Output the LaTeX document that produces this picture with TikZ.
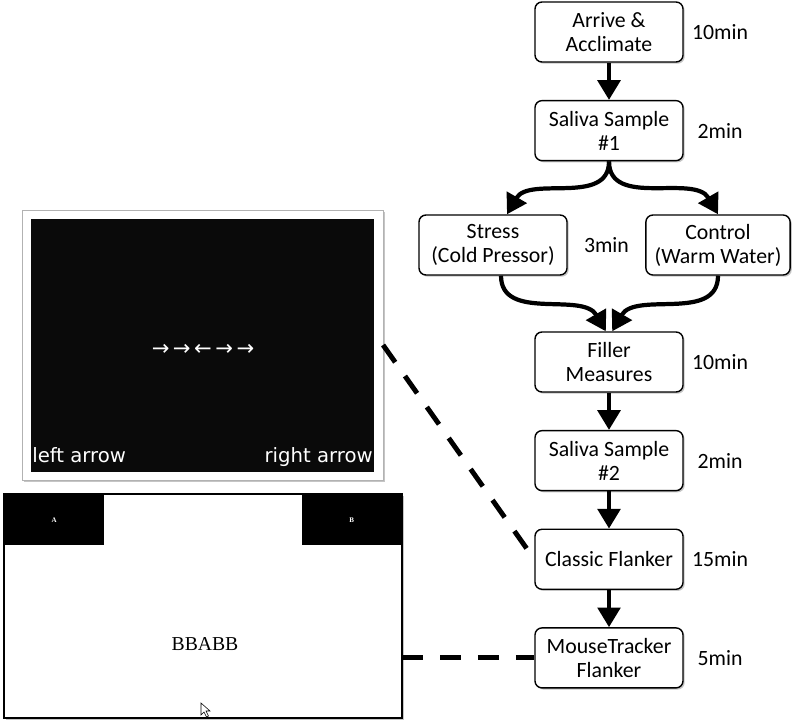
\documentclass[tikz,border=0pt]{standalone}
\usepackage{fontspec}
\setmainfont{Carlito}
\newfontfamily\screenfont{DejaVu Sans}
\newfontfamily\stimfont{Liberation Serif}
\usetikzlibrary{positioning,arrows.meta,shadows}

\tikzset{
  stepBox/.style={draw, line width=1pt, rounded corners=5pt, fill=white,
    align=center, minimum width=3.7cm, minimum height=1.5cm, inner sep=0.22cm,
    font=\fontsize{15.5}{17}\selectfont,
    drop shadow={shadow xshift=1.2pt, shadow yshift=-1.2pt, fill=black!45}},
  timeLabel/.style={font=\fontsize{15.5}{17}\selectfont},
  flowArrow/.style={line width=3pt, -{Triangle[width=16pt,length=14pt]}},
  dashLink/.style={line width=3.5pt, dash pattern=on 15pt off 12pt},
  screenText/.style={text=white, inner sep=0pt, font=\screenfont\fontsize{14}{16}\selectfont},
  cornerBox/.style={fill=black, text=white, inner sep=0pt, minimum width=2.5cm,
    minimum height=1.275cm, font=\stimfont\bfseries\fontsize{5}{6}\selectfont}
}

\begin{document}
\begin{tikzpicture}[x=0.025cm, y=-0.025cm, node distance=0.93cm]
  \useasboundingbox (0,0) rectangle (800,723);
  \node[stepBox] (arrive) at (609,32) {Arrive \&\\Acclimate};
  \node[stepBox, below = of arrive] (salivaOne) {Saliva Sample\\\#1};
  \node[stepBox] (stress) at (493,245) {Stress\\(Cold Pressor)};
  \node[stepBox, minimum width=3.6cm] (control) at (718,245) {Control\\(Warm Water)};
  \node[stepBox] (filler) at (609,362) {Filler\\Measures};
  \node[stepBox, below = of filler] (salivaTwo) {Saliva Sample\\\#2};
  \node[stepBox, below = of salivaTwo] (classic) {Classic Flanker};
  \node[stepBox, below = of classic] (mouseTracker) {MouseTracker\\Flanker};

  \coordinate (timeCol) at (720,0);
  \node[timeLabel] at (arrive -| timeCol) {10min};
  \node[timeLabel] at (salivaOne -| timeCol) {2min};
  \path (stress)--(control)node[midway,timeLabel] {3min};
  \node[timeLabel] at (filler -| timeCol) {10min};
  \node[timeLabel] at (salivaTwo -| timeCol) {2min};
  \node[timeLabel] at (classic -| timeCol) {15min};
  \node[timeLabel] at (mouseTracker -| timeCol) {5min};

  \draw[flowArrow] (arrive) -- (salivaOne);
  \draw[flowArrow] (salivaOne.south) to[out=-90, in=60] ([xshift=0.35cm]stress.north);
  \draw[flowArrow] (salivaOne.south) to[out=-90, in=120] (control.north);
  \draw[flowArrow] ([xshift=0.2cm]stress.south) to[out=-90, in=120] ([xshift=-0.08cm]filler.north);
  \draw[flowArrow] (control.south) to[out=-90, in=60] ([xshift=0.08cm]filler.north);
  \draw[flowArrow] (filler) -- (salivaTwo);
  \draw[flowArrow] (salivaTwo) -- (classic);
  \draw[flowArrow] (classic) -- (mouseTracker);

  \node[draw=black!30, line width=0.6pt, fill=white, inner sep=0pt, outer sep=0pt,
    minimum width=9.025cm, minimum height=6.75cm,
    drop shadow={shadow xshift=1.5pt, shadow yshift=-1.5pt, fill=black!45}]
    (flankerFrame) at (202.5,345) {};
  \node[fill=black!96, inner sep=0pt, outer sep=0pt, minimum width=8.575cm,
    minimum height=6.325cm] (flankerScreen) at (202.5,345.5) {};
  \node[screenText, font=\screenfont\fontsize{15}{16}\selectfont] (stimulus) at (203,350)
    {→\kern2.5pt→\kern2.5pt←\kern2.5pt→\kern2.5pt→};
  \node[screenText, anchor=base west] (leftKey) at (32,462) {left arrow};
  \node[screenText, anchor=base east] (rightKey) at (373,462) {right arrow};

  \node[draw, line width=1pt, fill=white, inner sep=0pt, outer sep=0pt,
    minimum width=9.95cm, minimum height=5.6cm,
    drop shadow={shadow xshift=1.5pt, shadow yshift=-1.5pt, fill=black!45}]
    (mouseScreen) at (203,606) {};
  \node[cornerBox, anchor=north west] (boxA) at (mouseScreen.north west) {A};
  \node[cornerBox, anchor=north east] (boxB) at (mouseScreen.north east) {B};
  \node[font=\stimfont\fontsize{14}{16}\selectfont] (target) at (205,644) {BBABB};
  \draw[fill=white, line width=0.4pt] (201,703) -- ++(0,12) -- ++(3,-3) -- ++(2.5,5)
    -- ++(2,-1) -- ++(-2.5,-5) -- ++(4,0) -- cycle;

  \draw[dashLink] (flankerFrame.east) -- (classic.west);
  \draw[dashLink] (mouseTracker.west -| mouseScreen.east) -- (mouseTracker.west);
\end{tikzpicture}
\end{document}
